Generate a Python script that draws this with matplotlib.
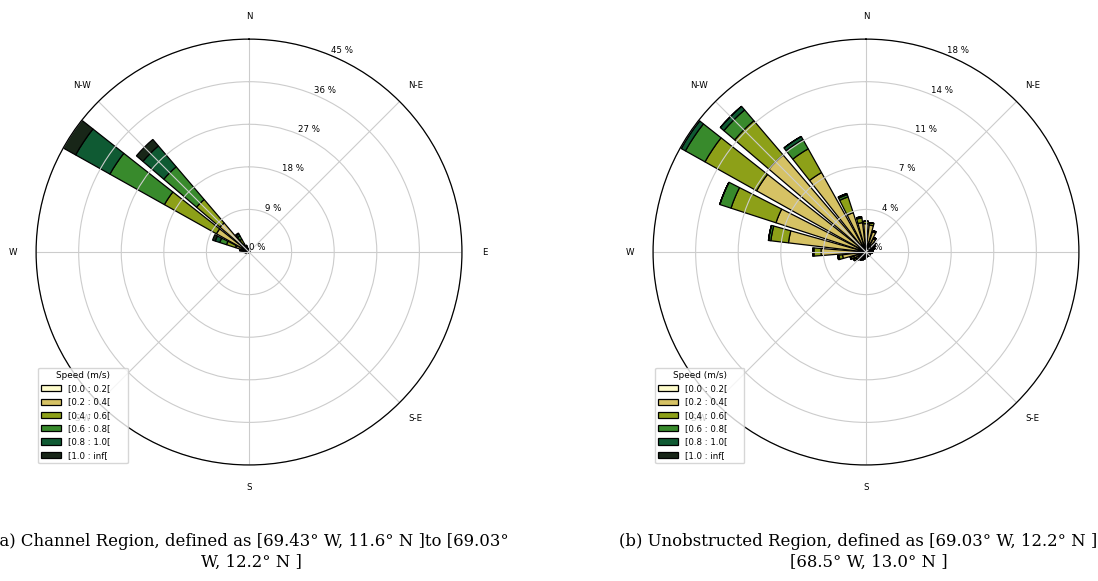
import numpy as np
import matplotlib.pyplot as plt
from matplotlib.patches import Patch

# 32 direction sectors (degrees from north, clockwise)
directions = [0, 11.25, 22.5, 33.75, 45, 56.25, 67.5, 78.75,
              90, 101.25, 112.5, 123.75, 135, 146.25, 157.5, 168.75,
              180, 191.25, 202.5, 213.75, 225, 236.25, 247.5, 258.75,
              270, 281.25, 292.5, 303.75, 315, 326.25, 337.5, 348.75]

speed_labels = ['[0.0 : 0.2[', '[0.2 : 0.4[', '[0.4 : 0.6[',
                '[0.6 : 0.8[', '[0.8 : 1.0[', '[1.0 : inf[']
speed_colors = ['#fefccc', '#d6c264', '#8da018', '#388a2c', '#0f5a33', '#182618']

compass_labels = ['N', 'N-E', 'E', 'S-E', 'S', 'S-W', 'W', 'N-W']

# frequency (%) per sector for each speed bin -- channel region
ch_b0 = [0.1, 0.1, 0.1, 0.1, 0.1, 0.1, 0.1, 0.1, 0.1, 0.1, 0.1, 0.1, 0.1, 0.1, 0.1, 0.1,
         0.1, 0.1, 0.1, 0.1, 0.1, 0.1, 0.1, 0.2, 0.3, 0.3, 0.5, 1.0, 1.0, 0.4, 0.3, 0.2]
ch_b1 = [0.2, 0.2, 0.1, 0.1, 0.1, 0.1, 0.1, 0.1, 0.1, 0.1, 0.1, 0.1, 0.1, 0.1, 0.1, 0.1,
         0.1, 0.1, 0.1, 0.1, 0.1, 0.2, 0.2, 0.3, 0.4, 0.8, 2.5, 6.9, 7.1, 1.5, 0.6, 0.3]
ch_b2 = [0.1, 0.1, 0.1, 0.1, 0.0, 0.0, 0.0, 0.0, 0.0, 0.0, 0.0, 0.0, 0.0, 0.0, 0.0, 0.0,
         0.0, 0.0, 0.0, 0.0, 0.0, 0.1, 0.1, 0.2, 0.3, 0.5, 2.0, 12.6, 6.5, 1.2, 0.3, 0.1]
ch_b3 = [0.1, 0.0, 0.0, 0.0, 0.0, 0.0, 0.0, 0.0, 0.0, 0.0, 0.0, 0.0, 0.0, 0.0, 0.0, 0.0,
         0.0, 0.0, 0.0, 0.0, 0.0, 0.0, 0.1, 0.1, 0.1, 0.3, 1.5, 13.2, 9.1, 0.8, 0.2, 0.1]
ch_b4 = [0.0, 0.0, 0.0, 0.0, 0.0, 0.0, 0.0, 0.0, 0.0, 0.0, 0.0, 0.0, 0.0, 0.0, 0.0, 0.0,
         0.0, 0.0, 0.0, 0.0, 0.0, 0.0, 0.0, 0.0, 0.1, 0.1, 1.0, 8.3, 5.8, 0.5, 0.1, 0.0]
ch_b5 = [0.0, 0.0, 0.0, 0.0, 0.0, 0.0, 0.0, 0.0, 0.0, 0.0, 0.0, 0.0, 0.0, 0.0, 0.0, 0.0,
         0.0, 0.0, 0.0, 0.0, 0.0, 0.0, 0.0, 0.0, 0.0, 0.0, 0.6, 3.0, 1.8, 0.2, 0.0, 0.0]

# frequency (%) per sector for each speed bin -- unobstructed region
un_b0 = [0.3, 0.3, 0.3, 0.3, 0.3, 0.3, 0.3, 0.3, 0.3, 0.2, 0.2, 0.2, 0.2, 0.2, 0.2, 0.2,
         0.2, 0.2, 0.2, 0.3, 0.3, 0.3, 0.3, 0.3, 0.3, 0.3, 0.4, 0.4, 0.4, 0.4, 0.3, 0.3]
un_b1 = [2.1, 2.0, 1.5, 1.0, 0.7, 0.5, 0.4, 0.3, 0.3, 0.3, 0.2, 0.2, 0.2, 0.2, 0.2, 0.2,
         0.3, 0.3, 0.4, 0.4, 0.5, 0.7, 0.8, 1.7, 3.5, 6.3, 7.6, 10.2, 10.4, 7.3, 3.2, 2.2]
un_b2 = [0.2, 0.2, 0.1, 0.1, 0.1, 0.1, 0.1, 0.0, 0.0, 0.0, 0.0, 0.0, 0.0, 0.0, 0.0, 0.0,
         0.0, 0.1, 0.1, 0.1, 0.1, 0.2, 0.2, 0.3, 0.6, 1.5, 4.0, 5.0, 3.8, 2.3, 1.4, 0.4]
un_b3 = [0.0, 0.0, 0.0, 0.0, 0.0, 0.0, 0.0, 0.0, 0.0, 0.0, 0.0, 0.0, 0.0, 0.0, 0.0, 0.0,
         0.0, 0.0, 0.0, 0.0, 0.0, 0.0, 0.1, 0.1, 0.1, 0.2, 1.0, 1.9, 1.2, 0.9, 0.2, 0.1]
un_b4 = [0.0, 0.0, 0.0, 0.0, 0.0, 0.0, 0.0, 0.0, 0.0, 0.0, 0.0, 0.0, 0.0, 0.0, 0.0, 0.0,
         0.0, 0.0, 0.0, 0.0, 0.0, 0.0, 0.0, 0.0, 0.0, 0.0, 0.0, 0.4, 0.4, 0.3, 0.1, 0.0]
un_b5 = [0.0, 0.0, 0.0, 0.0, 0.0, 0.0, 0.0, 0.0, 0.0, 0.0, 0.0, 0.0, 0.0, 0.0, 0.0, 0.0,
         0.0, 0.0, 0.0, 0.0, 0.0, 0.0, 0.0, 0.0, 0.0, 0.0, 0.0, 0.1, 0.0, 0.0, 0.0, 0.0]

caption_a = '(a) Channel Region, defined as [69.43° W, 11.6° N ]to [69.03°\nW, 12.2° N ]'
caption_b = '(b) Unobstructed Region, defined as [69.03° W, 12.2° N ] to\n[68.5° W, 13.0° N ]'


def windrose(ax, bins):
    theta = np.deg2rad(directions)
    width = np.deg2rad(360 / len(directions)) * 0.8
    offset = np.zeros(len(directions))
    for vals, color in zip(bins, speed_colors):
        vals = np.array(vals)
        ax.bar(theta, vals, width=width, bottom=offset, color=color,
               edgecolor='k', linewidth=0.9)
        offset += vals

    rmax = offset.max()
    ax.set_theta_zero_location('N')
    ax.set_theta_direction(-1)
    ax.set_ylim(0, rmax)
    radii = np.linspace(0, rmax, 6)
    ax.set_rgrids(radii, ['%.0f %%' % r for r in radii], fontsize=6.2)
    ax.set_rlabel_position(22.5)
    ax.set_thetagrids(np.arange(0, 360, 45), compass_labels, fontsize=6.2)
    ax.tick_params(axis='x', pad=6)
    ax.grid(True, color='#cccccc', linewidth=0.8)
    ax.spines['polar'].set_linewidth(0.9)

    # legend box in the reference is wider than its text
    handles = [Patch(facecolor=c, edgecolor='k', linewidth=0.9) for c in speed_colors]
    ax.legend(handles, [s + '     ' for s in speed_labels], title='Speed (m/s)',
              loc='lower left', fontsize=6.2, title_fontsize=6.4,
              handlelength=2.3, borderaxespad=0.2)


fig = plt.figure(figsize=(10.98, 5.81), dpi=100)
ax1 = fig.add_axes([0.0328, 0.1997, 0.388, 0.733], projection='polar')
ax2 = fig.add_axes([0.5947, 0.1997, 0.388, 0.733], projection='polar')

windrose(ax1, [ch_b0, ch_b1, ch_b2, ch_b3, ch_b4, ch_b5])
windrose(ax2, [un_b0, un_b1, un_b2, un_b3, un_b4, un_b5])

fig.text(251 / 1098, 1 - 533 / 581, caption_a, ha='center', va='top',
         family='DejaVu Serif', fontsize=11.9, linespacing=1.28)
fig.text(869 / 1098, 1 - 533 / 581, caption_b, ha='center', va='top',
         family='DejaVu Serif', fontsize=11.9, linespacing=1.28)

plt.savefig('out.png', dpi=100)
